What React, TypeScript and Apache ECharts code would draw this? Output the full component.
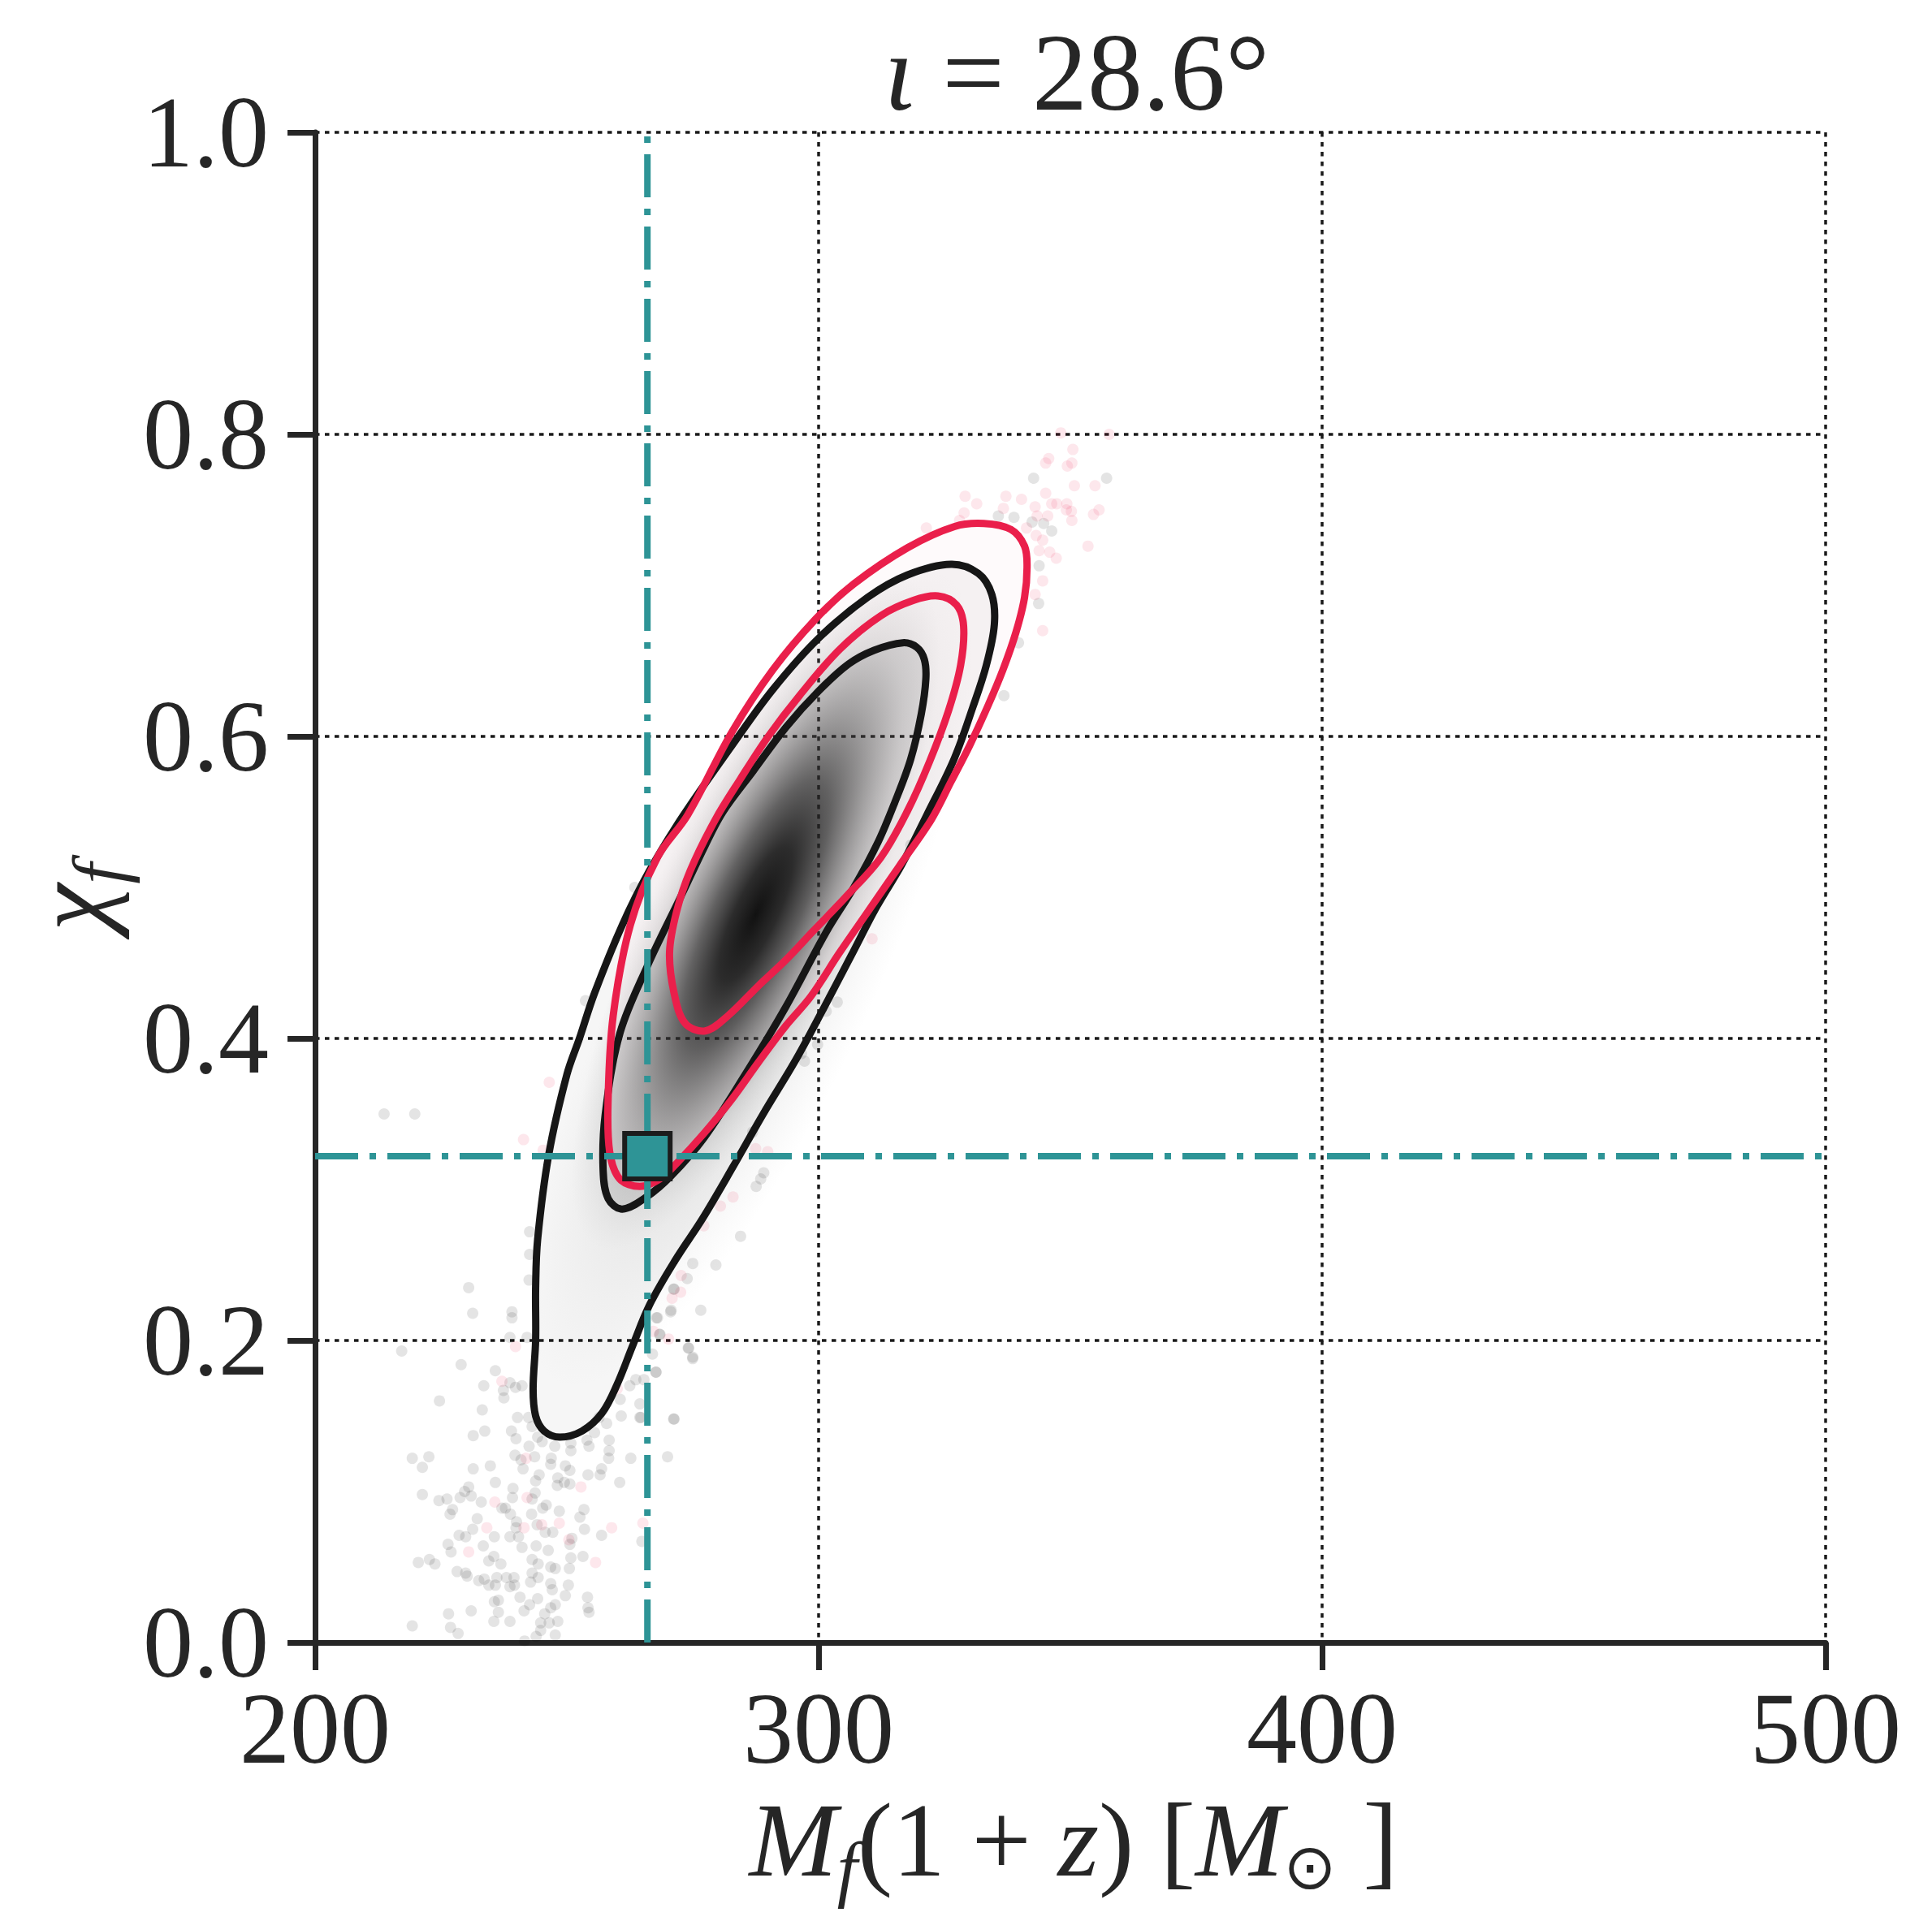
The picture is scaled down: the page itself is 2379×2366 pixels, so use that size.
import React, { useEffect, useRef } from "react";
import * as echarts from "echarts";

// ---------- data ----------
const xMin = 200;
const xMax = 500;
const xStep = 100;
const yMin = 0;
const yMax = 1;
const yStep = 0.2;

const injection: [number, number] = [266, 0.322];

// 2D-posterior contour lines (data coordinates)
const blackOuter: number[][] = [
  [326.3, 0.714], [331.7, 0.708], [334.4, 0.694], [334.9, 0.674], [333.3, 0.647], [330.6, 0.619],
  [326.9, 0.585], [321.5, 0.548], [316.5, 0.515], [311.5, 0.487], [306.5, 0.455], [301, 0.42],
  [295.5, 0.386], [289, 0.35], [283, 0.315], [277, 0.281], [271.5, 0.253], [266.5, 0.224],
  [263, 0.196], [260, 0.171], [257, 0.152], [253, 0.14], [248.6, 0.136], [245.5, 0.14],
  [243.8, 0.15], [243.3, 0.168], [243.8, 0.2], [243.8, 0.235], [244.2, 0.267], [246.4, 0.323],
  [250, 0.376], [252.5, 0.4], [255.5, 0.43], [261, 0.475], [266.4, 0.511], [273, 0.547],
  [282.8, 0.594], [290.9, 0.631], [300, 0.665], [309.7, 0.692], [317.7, 0.707],
];
const blackInner: number[][] = [
  [316.7, 0.662], [319.5, 0.659], [321, 0.651], [321.3, 0.638], [320.4, 0.615], [318.3, 0.585],
  [315.1, 0.556], [311.8, 0.53], [307, 0.5], [301.6, 0.471], [293.5, 0.421], [285.4, 0.376],
  [277.2, 0.334], [270.7, 0.309], [265.8, 0.295], [261, 0.287], [258.2, 0.294], [257.2, 0.313],
  [257.6, 0.349], [260.5, 0.403], [266, 0.448], [272.5, 0.493], [277.5, 0.528], [281, 0.55],
  [287, 0.577], [293.5, 0.606], [300, 0.63], [306, 0.648], [311, 0.657],
];
const redOuter: number[][] = [
  [332.8, 0.741], [338.2, 0.737], [340.9, 0.726], [341.4, 0.712], [340.9, 0.692], [339.2, 0.669],
  [336.6, 0.644], [333.6, 0.62], [330, 0.594], [326.3, 0.57], [322.4, 0.545], [316, 0.514],
  [309.8, 0.484], [304, 0.456], [298.5, 0.428], [293.4, 0.408], [288, 0.384], [282.6, 0.359],
  [277.2, 0.337], [272, 0.318], [268.5, 0.307], [264.5, 0.302], [260.5, 0.307], [258.5, 0.325],
  [258.2, 0.36], [259.2, 0.415], [262.6, 0.475], [268, 0.52], [274, 0.548], [282.8, 0.603],
  [290.9, 0.644], [299.5, 0.678], [307, 0.701], [317.7, 0.725], [327, 0.739],
];
const redInner: number[][] = [
  [323.7, 0.693], [327.4, 0.687], [328.8, 0.673], [328.2, 0.647], [325.8, 0.617], [322, 0.583],
  [317.7, 0.551], [312.4, 0.52], [305.5, 0.494], [298.9, 0.471], [293.5, 0.452], [288.1, 0.435],
  [282, 0.415], [277.5, 0.405], [273.5, 0.41], [271.3, 0.43], [270.4, 0.457], [271.8, 0.484],
  [274.5, 0.511], [279.5, 0.545], [284.5, 0.572], [290, 0.6], [296.2, 0.627], [304.3, 0.658],
  [312.4, 0.68], [318.8, 0.69],
];

// long axis of the dark density core (ends where it fades out)
const densityCoreAxis: number[][] = [
  [256, 0.262],
  [319, 0.702],
];
// long axis of the faint halo around the core
const densityHaloAxis: number[][] = [
  [248, 0.17],
  [325, 0.71],
];

// faint posterior samples outside the contours
const graySamples: number[][] = [
  [230.5, 0.235], [231.3, 0.218], [239.1, 0.219], [239.1, 0.215], [217.2, 0.193], [229.0, 0.184],
  [235.8, 0.18], [233.5, 0.17], [238.7, 0.172], [239.8, 0.169], [241.1, 0.17], [237.4, 0.167],
  [237.5, 0.162], [224.7, 0.16], [233.2, 0.154], [240.2, 0.149], [242.4, 0.149], [243.1, 0.143],
  [239.0, 0.14], [233.7, 0.14], [231.4, 0.137], [239.9, 0.135], [242.5, 0.13], [244.2, 0.136],
  [245.1, 0.133], [247.6, 0.13], [250.8, 0.132], [250.8, 0.127], [254.4, 0.13], [254.0, 0.134],
  [255.5, 0.139], [256.4, 0.149], [257.9, 0.145], [258.4, 0.134], [258.4, 0.127], [258.3, 0.122],
  [262.7, 0.122], [270.0, 0.123], [271.3, 0.148], [260.8, 0.15], [260.6, 0.161], [264.5, 0.158],
  [264.5, 0.149], [262.5, 0.17], [263.7, 0.174], [265.3, 0.174], [267.7, 0.179], [267.0, 0.191],
  [268.4, 0.204], [267.8, 0.215], [270.6, 0.219], [274.1, 0.195], [275.0, 0.188], [276.6, 0.22],
  [271.3, 0.234], [219.3, 0.122], [222.6, 0.123], [221.3, 0.116], [221.3, 0.098], [224.6, 0.094],
  [226.2, 0.095], [228.8, 0.096], [229.7, 0.1], [231.0, 0.097], [230.5, 0.103], [231.4, 0.115],
  [234.8, 0.117], [235.8, 0.106], [239.3, 0.102], [239.2, 0.096], [241.3, 0.115], [239.7, 0.124],
  [240.9, 0.121], [243.6, 0.123], [246.9, 0.122], [246.8, 0.118], [249.7, 0.117], [250.6, 0.114],
  [244.5, 0.111], [243.8, 0.107], [248.2, 0.109], [248.1, 0.104], [249.5, 0.106], [250.6, 0.105],
  [254.2, 0.111], [256.6, 0.111], [256.9, 0.115], [260.5, 0.106], [243.1, 0.095], [243.7, 0.099],
  [227.3, 0.088], [226.8, 0.085], [233.0, 0.093], [232.2, 0.082], [237.1, 0.089], [237.8, 0.089],
  [238.8, 0.085], [243.0, 0.085], [245.2, 0.089], [245.9, 0.091], [248.5, 0.087], [253.4, 0.088],
  [252.6, 0.083], [240.0, 0.08], [239.9, 0.076], [244.1, 0.078], [245.7, 0.073], [247.2, 0.073],
  [251.0, 0.069], [250.6, 0.065], [253.5, 0.075], [256.9, 0.071], [231.3, 0.075], [228.6, 0.071],
  [229.9, 0.07], [235.6, 0.07], [238.7, 0.07], [240.4, 0.07], [226.4, 0.065], [227.0, 0.06],
  [233.4, 0.064], [241.1, 0.063], [243.9, 0.064], [246.3, 0.061], [250.8, 0.056], [253.2, 0.057],
  [222.7, 0.055], [223.8, 0.052], [234.5, 0.054], [235.5, 0.057], [236.9, 0.052], [243.1, 0.055],
  [244.3, 0.052], [246.8, 0.05], [247.7, 0.049], [250.5, 0.049], [228.2, 0.047], [229.9, 0.046],
  [230.2, 0.044], [232.5, 0.041], [233.6, 0.042], [234.5, 0.038], [235.8, 0.038], [236.1, 0.043],
  [238.0, 0.043], [239.5, 0.043], [238.7, 0.037], [239.6, 0.038], [243.1, 0.046], [244.3, 0.043],
  [242.8, 0.04], [246.8, 0.039], [247.1, 0.035], [250.3, 0.038], [249.7, 0.031], [254.1, 0.03],
  [254.2, 0.023], [254.4, 0.02], [240.7, 0.03], [244.2, 0.029], [242.6, 0.025], [241.5, 0.021],
  [235.6, 0.027], [236.4, 0.028], [247.7, 0.025], [246.8, 0.023], [245.6, 0.019], [236.4, 0.02],
  [231.0, 0.021], [226.5, 0.019], [219.3, 0.011], [226.9, 0.01], [228.4, 0.006], [235.5, 0.014],
  [238.7, 0.014], [244.8, 0.013], [246.5, 0.013], [248.2, 0.014], [244.8, 0.008], [243.9, 0.004],
  [241.6, 0.001], [247.7, 0.005], [264.9, 0.067], [264.7, 0.149], [253.7, 0.425], [242.6, 0.272],
  [242.6, 0.257], [242.5, 0.24], [242.1, 0.202], [303.7, 0.424], [301.5, 0.418], [299.8, 0.396],
  [297.2, 0.385], [296.6, 0.39], [289.1, 0.311], [288.5, 0.307], [287.6, 0.302], [284.5, 0.269],
  [279.6, 0.25], [275.0, 0.251], [273.9, 0.241], [271.2, 0.234], [270.7, 0.22], [268.0, 0.215],
  [268.5, 0.204], [274.2, 0.195], [275.0, 0.189], [267.7, 0.179], [271.2, 0.148], [286.9, 0.338],
  [213.7, 0.35], [219.8, 0.35], [220.5, 0.053], [238.7, 0.202], [263.5, 0.5], [342.7, 0.771],
  [357.2, 0.771], [338.8, 0.745], [335.7, 0.746], [342.4, 0.742], [344.7, 0.741], [346.3, 0.736],
  [343.8, 0.713], [343.7, 0.688], [339.7, 0.662], [336.8, 0.627], [318.3, 0.528],
];
const redSamples: number[][] = [
  [239.8, 0.196], [237.1, 0.173], [241.9, 0.122], [235.7, 0.093], [242.1, 0.096], [234.1, 0.076],
  [241.5, 0.076], [245.0, 0.078], [248.5, 0.079], [252.8, 0.103], [258.9, 0.076], [250.4, 0.068],
  [255.7, 0.053], [230.5, 0.06], [265.1, 0.079], [272.7, 0.243], [272.6, 0.232], [270.9, 0.228],
  [270.2, 0.201], [267.2, 0.206], [260.0, 0.168], [246.5, 0.371], [241.4, 0.333], [245.3, 0.326],
  [287.5, 0.327], [289.9, 0.325], [283.0, 0.295], [280.5, 0.289], [277.2, 0.276], [348.1, 0.801],
  [357.7, 0.8], [350.5, 0.79], [345.7, 0.784], [345.1, 0.781], [349.4, 0.779], [350.3, 0.781],
  [350.8, 0.766], [354.9, 0.766], [329.1, 0.759], [331.4, 0.754], [337.2, 0.759], [340.3, 0.757],
  [336.7, 0.751], [345.1, 0.761], [346.3, 0.754], [347.3, 0.754], [349.3, 0.754], [349.2, 0.75],
  [350.2, 0.749], [355.7, 0.75], [354.6, 0.747], [350.3, 0.743], [343.0, 0.752], [343.4, 0.746],
  [345.5, 0.746], [341.3, 0.738], [343.2, 0.733], [344.5, 0.73], [343.8, 0.723], [345.9, 0.722],
  [347.2, 0.718], [328.9, 0.748], [328.0, 0.743], [321.4, 0.738], [353.5, 0.726], [344.5, 0.703],
  [343.0, 0.694], [344.5, 0.67], [310.6, 0.466], [323.3, 0.557],
];

// ---------- styling ----------
const W = 2379;
const H = 2366;
const INK = "#262626";
const TEAL = "#2e9496";
const RED = "#ea1f4b";
const BLACK = "#161616";
const SERIF = "'Liberation Serif', 'Times New Roman', serif";

const polyLayer = (pts: number[][], style: any, z: number) => ({
  type: "custom",
  coordinateSystem: "cartesian2d",
  silent: true,
  clip: true,
  z,
  data: pts,
  encode: { x: 0, y: 1 },
  renderItem: (params: any, api: any) =>
    params.dataIndex === 0
      ? {
          type: "polygon",
          shape: { points: pts.map((p) => api.coord(p)), smooth: 0.35 },
          style,
        }
      : null,
});

const gradientLayer = (axisPts: number[][], halfWidth: number, stops: any[], z: number) => ({
  type: "custom",
  coordinateSystem: "cartesian2d",
  silent: true,
  clip: true,
  z,
  data: axisPts,
  encode: { x: 0, y: 1 },
  renderItem: (params: any, api: any) => {
    if (params.dataIndex !== 0) return null;
    const a = api.coord(axisPts[0]);
    const b = api.coord(axisPts[1]);
    const dx = b[0] - a[0];
    const dy = b[1] - a[1];
    return {
      type: "circle",
      shape: { cx: 0, cy: 0, r: 100 },
      x: (a[0] + b[0]) / 2,
      y: (a[1] + b[1]) / 2,
      rotation: -Math.atan2(dy, dx),
      scaleX: Math.hypot(dx, dy) / 200,
      scaleY: halfWidth / 100,
      style: { fill: new echarts.graphic.RadialGradient(0.5, 0.5, 0.5, stops) },
    };
  },
});

const coreStops = [
  { offset: 0, color: "rgba(12,12,12,0.97)" },
  { offset: 0.2, color: "rgba(22,22,22,0.88)" },
  { offset: 0.4, color: "rgba(40,40,40,0.66)" },
  { offset: 0.6, color: "rgba(70,70,70,0.38)" },
  { offset: 0.8, color: "rgba(110,110,110,0.14)" },
  { offset: 1, color: "rgba(150,150,150,0)" },
];
const haloStops = [
  { offset: 0, color: "rgba(60,60,60,0.18)" },
  { offset: 0.6, color: "rgba(90,90,90,0.08)" },
  { offset: 1, color: "rgba(120,120,120,0)" },
];

const contour = (pts: number[][], color: string, z: number) =>
  polyLayer(pts, { fill: "none", stroke: color, lineWidth: 9, lineJoin: "round" }, z);

// main-line token and lowered subscript token for rich text
const mainText = (size: number, italic: boolean, lh: number) => ({
  fontFamily: SERIF,
  fontSize: size,
  fontStyle: italic ? "italic" : "normal",
  fill: INK,
  lineHeight: lh,
  verticalAlign: "middle",
});
// a bottom-aligned token whose box height is h sits (lineHeight - h) / 2 below the line centre
const subText = (size: number, h: number, family = SERIF, italic = true) => ({
  fontFamily: family,
  fontSize: size,
  fontStyle: italic ? "italic" : "normal",
  fill: INK,
  height: h,
  lineHeight: 66,
  verticalAlign: "bottom",
});

const axisCommon = {
  type: "value",
  axisLine: { show: true, onZero: false, lineStyle: { color: INK, width: 7 } },
  axisTick: { show: true, inside: false, length: 34, lineStyle: { color: INK, width: 7 } },
  splitLine: { show: true, lineStyle: { color: "#1a1a1a", width: 3.5, type: [5.5, 6.5] } },
};

const option: any = {
  animation: false,
  backgroundColor: "#ffffff",
  grid: { left: 388, top: 163, width: 1860, height: 1860, containLabel: false },
  xAxis: {
    ...axisCommon,
    min: xMin,
    max: xMax,
    interval: xStep,
    axisLabel: {
      fontFamily: SERIF,
      fontSize: 124,
      lineHeight: 120,
      color: INK,
      margin: 46,
      showMinLabel: true,
      showMaxLabel: true,
    },
  },
  yAxis: {
    ...axisCommon,
    min: yMin,
    max: yMax,
    interval: yStep,
    axisLabel: {
      fontFamily: SERIF,
      fontSize: 124,
      lineHeight: 120,
      color: INK,
      margin: 57,
      showMinLabel: true,
      showMaxLabel: true,
      formatter: (v: number) => v.toFixed(1),
    },
  },
  graphic: [
    {
      type: "text",
      x: 1326,
      y: 89,
      silent: true,
      style: {
        text: "{i|ι}{r| = 28.6°}",
        align: "center",
        verticalAlign: "middle",
        rich: { i: mainText(136, true, 140), r: mainText(136, false, 140) },
      },
    },
    {
      type: "text",
      x: 1322,
      y: 2266,
      silent: true,
      style: {
        text: "{i|M}{s|f}{r|(1 + }{i|z}{r|) [}{i|M}{o|⊙}{r| ]}",
        align: "center",
        verticalAlign: "middle",
        rich: {
          i: mainText(130, true, 126),
          r: mainText(130, false, 126),
          s: subText(90, 56),
          o: subText(78, 60, "'DejaVu Sans', sans-serif", false),
        },
      },
    },
    {
      type: "text",
      x: 86,
      y: 1105,
      rotation: Math.PI / 2,
      silent: true,
      style: {
        text: "{i|χ}{s|f}",
        align: "center",
        verticalAlign: "middle",
        rich: { i: mainText(132, true, 126), s: subText(92, 54) },
      },
    },
  ],
  series: [
    {
      type: "scatter",
      silent: true,
      z: 1,
      symbolSize: 14,
      data: graySamples,
      itemStyle: { color: "rgba(0,0,0,0.13)" },
    },
    {
      type: "scatter",
      silent: true,
      z: 1,
      symbolSize: 14,
      data: redSamples,
      itemStyle: { color: "rgba(232,30,72,0.13)" },
    },
    polyLayer(redOuter, { fill: "rgba(232,30,72,0.025)" }, 2),
    polyLayer(blackOuter, { fill: "rgba(0,0,0,0.035)" }, 2),
    polyLayer(blackInner, { fill: "rgba(0,0,0,0.08)" }, 3),
    gradientLayer(densityHaloAxis, 150, haloStops, 3),
    gradientLayer(densityCoreAxis, 128, coreStops, 3),
    contour(blackOuter, BLACK, 4),
    contour(blackInner, BLACK, 4),
    contour(redOuter, RED, 5),
    contour(redInner, RED, 5),
    {
      type: "line",
      silent: true,
      z: 6,
      symbol: "none",
      data: [
        [injection[0], yMin],
        [injection[0], yMax],
      ],
      lineStyle: { color: TEAL, width: 8, type: [53, 14, 8, 14], cap: "butt" },
    },
    {
      type: "line",
      silent: true,
      z: 6,
      symbol: "none",
      data: [
        [xMin, injection[1]],
        [xMax, injection[1]],
      ],
      lineStyle: { color: TEAL, width: 8, type: [53, 14, 8, 14], cap: "butt" },
    },
    {
      type: "scatter",
      silent: true,
      z: 7,
      symbol: "rect",
      symbolSize: 56,
      data: [injection],
      itemStyle: { color: TEAL, borderColor: "#1c1c1c", borderWidth: 6, opacity: 1 },
    },
  ],
};

export default function App() {
  const ref = useRef<HTMLDivElement>(null);
  useEffect(() => {
    if (!ref.current) return;
    const chart = echarts.init(ref.current, null, { renderer: "svg" });
    chart.setOption(option);
    return () => chart.dispose();
  }, []);
  return (
    <div
      ref={ref}
      style={{ position: "absolute", left: 0, top: 0, width: W, height: H, background: "#fff" }}
    />
  );
}
